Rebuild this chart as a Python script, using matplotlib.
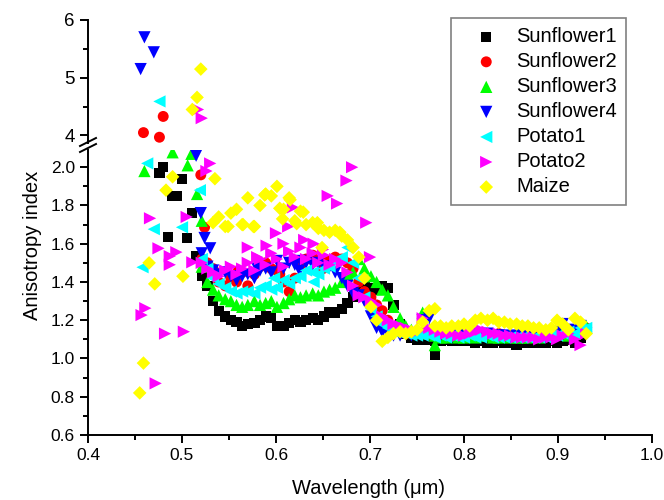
import numpy as np
import matplotlib
matplotlib.use("Agg")
import matplotlib.pyplot as plt
from matplotlib.lines import Line2D
from matplotlib.ticker import MultipleLocator

plt.rcParams['font.family'] = ['Liberation Sans', 'DejaVu Sans']

nan = np.nan

# wavelength grid of the dense part of every curve (um)
wl = [0.521, 0.527, 0.533, 0.539, 0.546, 0.552, 0.558, 0.564, 0.570, 0.577,
      0.583, 0.589, 0.595, 0.601, 0.608, 0.614, 0.620, 0.626, 0.632, 0.639,
      0.645, 0.651, 0.657, 0.663, 0.670, 0.676, 0.682, 0.688, 0.694, 0.701,
      0.707, 0.713, 0.719, 0.725, 0.732, 0.738, 0.744, 0.750, 0.756, 0.763,
      0.769, 0.775, 0.781, 0.787, 0.794, 0.800, 0.806, 0.812, 0.818, 0.825,
      0.831, 0.837, 0.843, 0.849, 0.856, 0.862, 0.868, 0.874, 0.880, 0.887,
      0.893, 0.899, 0.905, 0.911, 0.918, 0.924, 0.930]

sf1_band = [1.43, 1.38, 1.30, 1.25, 1.22, 1.20, 1.19, 1.17, 1.18, 1.185,
            1.20, 1.22, 1.21, 1.17, 1.17, 1.185, 1.20, 1.19, 1.20, 1.21,
            1.20, 1.22, 1.24, 1.24, 1.26, 1.29, 1.32, 1.35, 1.38, 1.37,
            1.36, 1.38, 1.37, 1.28, 1.18, 1.13, 1.11, 1.10, 1.10, 1.10,
            1.09, 1.09, 1.10, 1.09, 1.09, 1.10, 1.09, 1.08, 1.09, 1.08,
            1.08, 1.09, 1.08, 1.08, 1.07, 1.08, 1.08, 1.08, 1.08, 1.08,
            1.09, 1.08, 1.09, 1.10, 1.08, 1.11, 1.15]
sf2_band = [1.52, 1.50, 1.47, 1.40, 1.38, 1.42, 1.40, 1.45, 1.38, 1.44,
            1.48, 1.50, 1.47, 1.46, 1.40, 1.35, 1.42, 1.49, 1.52, 1.54,
            1.53, 1.52, 1.51, 1.53, 1.52, 1.50, 1.47, 1.40, 1.35, 1.32,
            1.28, 1.25, 1.20, 1.16, 1.14, 1.13, 1.13, 1.13, 1.13, 1.13,
            1.13, 1.12, 1.13, 1.13, 1.12, 1.13, 1.13, 1.12, 1.13, 1.13,
            1.12, 1.13, 1.12, 1.12, 1.12, 1.12, 1.12, 1.12, 1.12, 1.12,
            1.13, 1.12, 1.13, 1.14, 1.12, 1.15, 1.16]
sf3_band = [1.48, 1.40, 1.36, 1.33, 1.31, 1.30, 1.28, 1.27, 1.28, 1.30,
            1.28, 1.29, 1.30, 1.27, 1.29, 1.31, 1.33, 1.32, 1.33, 1.34,
            1.33, 1.35, 1.36, 1.37, 1.40, 1.44, 1.45, 1.52, 1.47, 1.43,
            1.40, 1.36, 1.33, 1.27, 1.21, 1.17, 1.15, 1.14, 1.24, 1.13,
            1.12, 1.11, 1.11, 1.12, 1.11, 1.11, 1.12, 1.11, 1.12, 1.12,
            1.11, 1.11, 1.12, 1.11, 1.11, 1.11, 1.11, 1.12, 1.11, 1.12,
            1.13, 1.15, 1.14, 1.12, 1.16, 1.14, 1.17]
sf4_band = [1.55, 1.48, 1.46, 1.44, 1.45, 1.43, 1.41, 1.43, 1.44, 1.42,
            1.46, 1.47, 1.45, 1.51, 1.47, 1.50, 1.49, 1.51, 1.50, 1.49,
            1.50, 1.48, 1.48, 1.45, 1.42, 1.38, 1.34, 1.33, 1.30, 1.22,
            1.16, 1.14, 1.13, 1.12, 1.12, 1.13, 1.12, 1.13, 1.20, 1.21,
            1.13, 1.12, 1.12, 1.13, 1.12, 1.12, 1.13, 1.12, 1.12, 1.13,
            1.12, 1.12, 1.12, 1.11, 1.12, 1.12, 1.11, 1.12, 1.12, 1.12,
            1.13, 1.14, 1.18, 1.13, 1.15, 1.17, 1.13]
po1_band = [1.52, 1.47, 1.42, 1.39, 1.37, 1.35, 1.34, 1.35, 1.35, 1.34,
            1.37, 1.38, 1.36, 1.37, 1.41, 1.39, 1.42, 1.43, 1.46, 1.45,
            1.44, 1.47, 1.48, 1.51, 1.53, 1.58, 1.50, 1.42, 1.32, 1.26,
            1.22, 1.18, 1.16, 1.14, 1.13, 1.13, 1.12, 1.12, 1.12, 1.12,
            1.11, 1.12, 1.11, 1.12, 1.11, 1.11, 1.12, 1.11, 1.11, 1.12,
            1.11, 1.11, 1.11, 1.11, 1.11, 1.11, 1.11, 1.11, 1.11, 1.11,
            1.12, 1.12, 1.13, 1.14, 1.13, 1.16, 1.16]
po2_band = [1.50, 1.47, 1.45, 1.43, 1.46, 1.48, 1.44, 1.47, 1.50, 1.46,
            1.52, 1.49, 1.55, 1.52, 1.48, 1.56, 1.53, 1.58, 1.52, 1.55,
            1.50, 1.54, 1.49, 1.52, 1.50, 1.45, 1.38, 1.33, 1.32, 1.30,
            1.28, 1.22, 1.20, 1.18, 1.17, 1.16, 1.15, 1.14, 1.21, 1.16,
            1.15, 1.14, 1.13, 1.13, 1.12, 1.12, 1.13, 1.14, 1.15, 1.14,
            1.13, 1.13, 1.12, 1.12, 1.11, 1.11, 1.11, 1.11, 1.10, 1.11,
            1.11, 1.10, 1.12, 1.13, 1.10, 1.07, 1.13]
mz_band = [nan, nan, 1.71, 1.74, 1.69, 1.76, 1.78, 1.70, 1.84, 1.69,
           1.80, 1.86, 1.85, 1.90, 1.78, 1.84, 1.72, 1.77, 1.70, 1.71,
           1.68, 1.67, 1.66, 1.67, 1.64, 1.62, 1.58, 1.53, 1.42, 1.27,
           1.20, 1.09, 1.11, 1.13, 1.14, 1.13, 1.14, 1.15, 1.19, 1.25,
           1.17, 1.17, 1.16, 1.17, 1.17, 1.18, 1.17, 1.20, 1.21, 1.20,
           1.21, 1.19, 1.19, 1.18, 1.18, 1.17, 1.17, 1.16, 1.16, 1.15,
           1.16, 1.20, 1.18, 1.15, 1.21, 1.19, 1.13]

# scattered points at the short-wavelength end and outliers
sf1_x = [0.476, 0.480, 0.500, 0.490, 0.494, 0.511, 0.485, 0.505, 0.515, 0.769]
sf1_y = [1.97, 2.00, 1.94, 1.85, 1.85, 1.76, 1.634, 1.629, 1.535, 1.02]
sf2_x = [0.459, 0.480, 0.476, 0.520, 0.524, 0.560, 0.604, 0.650]
sf2_y = [4.05, 4.33, 3.97, 1.96, 1.686, 1.46, 1.44, 1.47]
sf3_x = [0.490, 0.510, 0.460, 0.506, 0.516, 0.521, 0.769]
sf3_y = [2.078, 2.07, 1.98, 2.01, 1.86, 1.72, 1.07]
sf4_x = [0.460, 0.470, 0.456, 0.515, 0.520, 0.524, 0.530, 0.580, 0.625]
sf4_y = [5.70, 5.44, 5.15, 2.06, 1.76, 1.63, 1.576, 1.47, 1.46]
po1_x = [0.476, 0.463, 0.519, 0.470, 0.500, 0.458, 0.598, 0.640]
po1_y = [4.59, 2.02, 1.88, 1.676, 1.686, 1.477, 1.42, 1.40]
po2_x = [0.517, 0.521, 0.530, 0.526, 0.466, 0.505, 0.475, 0.494, 0.487, 0.487,
         0.511, 0.461, 0.457, 0.482, 0.502, 0.472,
         0.681, 0.675, 0.655, 0.665, 0.696, 0.700, 0.618, 0.600, 0.590, 0.630,
         0.640, 0.613, 0.580, 0.570, 0.608, 0.650]
po2_y = [4.45, 4.30, 2.02, 1.98, 1.733, 1.74, 1.576, 1.556, 1.535, 1.49,
         1.503, 1.263, 1.227, 1.13, 1.14, 0.87,
         2.00, 1.93, 1.85, 1.81, 1.71, 1.53, 1.79, 1.655, 1.59, 1.62,
         1.60, 1.69, 1.53, 1.58, 1.60, 1.57]
mz_x = [0.520, 0.516, 0.511, 0.490, 0.483, 0.535, 0.465, 0.471, 0.501, 0.459,
        0.455, 0.549, 0.565, 0.576, 0.588, 0.604, 0.607, 0.615, 0.622, 0.629,
        0.644, 0.649, 0.668, 0.769]
mz_y = [5.15, 4.66, 4.45, 1.95, 1.88, 1.94, 1.50, 1.39, 1.43, 0.976,
        0.82, 1.69, 1.70, 1.69, 1.855, 1.785, 1.73, 1.83, 1.705, 1.765,
        1.71, 1.58, 1.66, 1.26]

series = [
    ("Sunflower1", sf1_band, sf1_x, sf1_y, "s", "#000000", 55),
    ("Sunflower2", sf2_band, sf2_x, sf2_y, "o", "#ff0000", 62),
    ("Sunflower3", sf3_band, sf3_x, sf3_y, "^", "#00ff00", 78),
    ("Sunflower4", sf4_band, sf4_x, sf4_y, "v", "#0000ff", 78),
    ("Potato1", po1_band, po1_x, po1_y, "<", "#00ffff", 78),
    ("Potato2", po2_band, po2_x, po2_y, ">", "#ff00ff", 78),
    ("Maize", mz_band, mz_x, mz_y, "D", "#ffff00", 48),
]

W, H = 664, 500
fig = plt.figure(figsize=(W / 100, H / 100), dpi=100)
# lower (main) part: 0.6 - 2.09, upper part: 3.87 - 6
ax_lo = fig.add_axes([88 / W, (H - 435) / H, 564 / W, 285 / H])
ax_hi = fig.add_axes([88 / W, (H - 143) / H, 564 / W, 123 / H])

handles = []
for name, band, xs, ys, mk, col, size in series:
    x = list(wl) + xs
    y = list(band) + ys
    h = ax_lo.scatter(x, y, marker=mk, s=size, c=col, edgecolors='none',
                      label=name, zorder=3)
    ax_hi.scatter(x, y, marker=mk, s=size, c=col, edgecolors='none', zorder=3)
    handles.append(h)

lw = 1.4
for ax in (ax_lo, ax_hi):
    ax.set_xlim(0.4, 1.0)
    ax.spines['top'].set_visible(False)
    ax.spines['right'].set_visible(False)
    ax.spines['left'].set_linewidth(lw)
    ax.spines['bottom'].set_linewidth(lw)
    ax.tick_params(which='major', direction='out', length=6, width=lw)
    ax.tick_params(which='minor', direction='out', length=3.5, width=lw)

ax_lo.set_ylim(0.6, 2.09)
ax_lo.yaxis.set_major_locator(MultipleLocator(0.2))
ax_lo.yaxis.set_minor_locator(MultipleLocator(0.1))
ax_lo.xaxis.set_major_locator(MultipleLocator(0.1))
ax_lo.xaxis.set_minor_locator(MultipleLocator(0.05))
ax_lo.yaxis.set_major_formatter(plt.FormatStrFormatter('%.1f'))
ax_lo.xaxis.set_major_formatter(plt.FormatStrFormatter('%.1f'))
ax_lo.tick_params(labelsize=12.5)

ax_hi.set_ylim(3.87, 6.0)
ax_hi.yaxis.set_major_locator(MultipleLocator(1))
ax_hi.yaxis.set_minor_locator(MultipleLocator(0.5))
ax_hi.spines['bottom'].set_visible(False)
ax_hi.tick_params(axis='x', which='both', bottom=False, labelbottom=False)
ax_hi.tick_params(axis='y', labelsize=13.5)

# break marks on the y axis
for y0 in (146, 152):
    fig.add_artist(Line2D([80 / W, 96 / W], [(H - y0) / H, (H - y0 + 8) / H],
                          color='black', lw=lw))

fig.text(33 / W, 1 - 245 / H, "Anisotropy index", rotation=90,
         ha='center', va='center', fontsize=14.5)
fig.text(368 / W, 1 - 488 / H, "Wavelength (\u03bcm)",
         ha='center', va='center', fontsize=14.5)

leg = fig.legend(handles, [s[0] for s in series], loc='upper left',
                 bbox_to_anchor=(451 / W, 1 - 18 / H), fontsize=14.5,
                 frameon=True, fancybox=False, framealpha=1,
                 edgecolor='#808080', borderpad=0.45, labelspacing=0.3,
                 handlelength=2.6, handletextpad=0.2, scatterpoints=1,
                 borderaxespad=0)
leg.get_frame().set_linewidth(1.2)

fig.savefig("out.png", dpi=100)
